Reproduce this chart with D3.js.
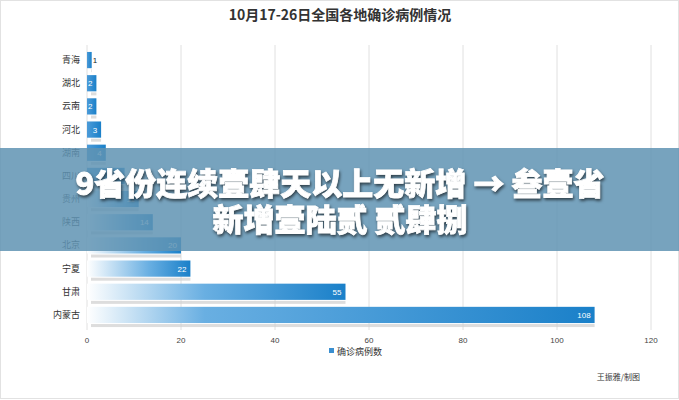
<!DOCTYPE html>
<html lang="zh">
<head>
<meta charset="UTF-8">
<script src="https://d3js.org/d3.v7.min.js"></script>
<style>
  body { margin: 0; background: #fff; font-family: "Noto Sans CJK SC", sans-serif; }
  svg { display: block; }
</style>
</head>
<body>
<svg id="chart" width="679" height="400"></svg>
<script>
const provinces = ["青海", "湖北", "云南", "河北", "湖南", "四川", "贵州", "陕西", "北京", "宁夏", "甘肃", "内蒙古"];
const cases = [1, 2, 2, 3, 4, 8, 11, 14, 20, 22, 55, 108];
const xTicks = [0, 20, 40, 60, 80, 100, 120];

const svg = d3.select("#chart");
const x = d3.scaleLinear().domain([0, 120]).range([87, 651]);
const y = d3.scaleBand().domain(provinces).range([45, 330]).padding(0.3);

svg.append("rect").attr("x", 0.5).attr("y", 0.5).attr("width", 678).attr("height", 398)
  .attr("fill", "none").attr("stroke", "#e2e2e2");

svg.append("text").attr("x", 340).attr("y", 20).attr("text-anchor", "middle")
  .attr("font-size", 14).attr("font-weight", "bold").attr("fill", "#333")
  .text("10月17-26日全国各地确诊病例情况");

const defs = svg.append("defs");
// one gradient per bar: white fade at the left, deeper blue to the right
cases.forEach((v, i) => {
  const end = x(v);
  const g = defs.append("linearGradient").attr("id", "bg" + i)
    .attr("gradientUnits", "userSpaceOnUse").attr("x1", x(0)).attr("x2", Math.max(end, x(0) + 1)).attr("y1", 0).attr("y2", 0);
  const fade = v > 10 ? Math.min(0.6, (x(25) - x(0)) / (end - x(0))) : 0;
  if (fade > 0) {
    g.append("stop").attr("offset", 0).attr("stop-color", "#ffffff");
    g.append("stop").attr("offset", fade).attr("stop-color", "#69afe2");
  } else {
    g.append("stop").attr("offset", 0).attr("stop-color", "#4c9bd8");
  }
  g.append("stop").attr("offset", 1).attr("stop-color", "#1a80c9");
});

svg.append("g").selectAll("line").data(xTicks).join("line")
  .attr("x1", d => x(d)).attr("x2", d => x(d)).attr("y1", 45).attr("y2", 330)
  .attr("stroke", "#e0e0e0");

const rows = svg.append("g").selectAll("g").data(provinces).join("g");
rows.append("rect")
  .attr("x", x(0) + 4).attr("y", d => y(d) + y.bandwidth() + 1)
  .attr("width", (d, i) => Math.max(0, x(cases[i]) - x(0) - 4)).attr("height", 3)
  .attr("fill", "#cfcfcf").attr("opacity", 0.7);
rows.append("rect")
  .attr("x", x(0)).attr("y", d => y(d))
  .attr("width", (d, i) => x(cases[i]) - x(0)).attr("height", y.bandwidth())
  .attr("fill", (d, i) => `url(#bg${i})`);
rows.append("text")
  .attr("x", (d, i) => cases[i] < 2 ? x(cases[i]) + 1 : x(cases[i]) - 4)
  .attr("y", d => y(d) + y.bandwidth() / 2 + 3)
  .attr("text-anchor", (d, i) => cases[i] < 2 ? "start" : "end")
  .attr("font-size", 8).attr("font-family", "Liberation Sans, sans-serif")
  .attr("fill", (d, i) => cases[i] < 2 ? "#222" : "#fff")
  .text((d, i) => cases[i]);

svg.append("g").selectAll("text").data(provinces).join("text")
  .attr("x", 80).attr("y", d => y(d) + y.bandwidth() / 2 + 3)
  .attr("text-anchor", "end").attr("font-size", 9).attr("fill", "#333").text(d => d);

svg.append("g").selectAll("text").data(xTicks).join("text")
  .attr("x", d => x(d)).attr("y", 343).attr("text-anchor", "middle")
  .attr("font-size", 8).attr("font-family", "Liberation Sans, sans-serif").attr("fill", "#444").text(d => d);

svg.append("rect").attr("x", 329).attr("y", 348).attr("width", 5).attr("height", 5).attr("fill", "#3a8fd0");
svg.append("text").attr("x", 337).attr("y", 355).attr("font-size", 9).attr("fill", "#333").text("确诊病例数");
svg.append("text").attr("x", 640).attr("y", 380).attr("text-anchor", "end")
  .attr("font-size", 8).attr("fill", "#333").text("王振雅/制图");

// overlay banner
svg.append("rect").attr("x", 0).attr("y", 148).attr("width", 679).attr("height", 103)
  .attr("fill", "#5f93b3").attr("opacity", 0.85);
const banner = ["9省份连续壹肆天以上无新增 → 叁壹省", "新增壹陆贰 贰肆捌"];
svg.append("g").selectAll("text").data(banner).join("text")
  .attr("x", 340).attr("y", (d, i) => 195 + i * 36).attr("text-anchor", "middle")
  .attr("font-size", 31).attr("font-weight", 900).attr("fill", "#fff")
  .attr("stroke", "#fff").attr("stroke-width", 0.8)
  .style("filter", "drop-shadow(1px 2px 1.5px rgba(0,0,0,0.6))")
  .text(d => d);
</script>
</body>
</html>
